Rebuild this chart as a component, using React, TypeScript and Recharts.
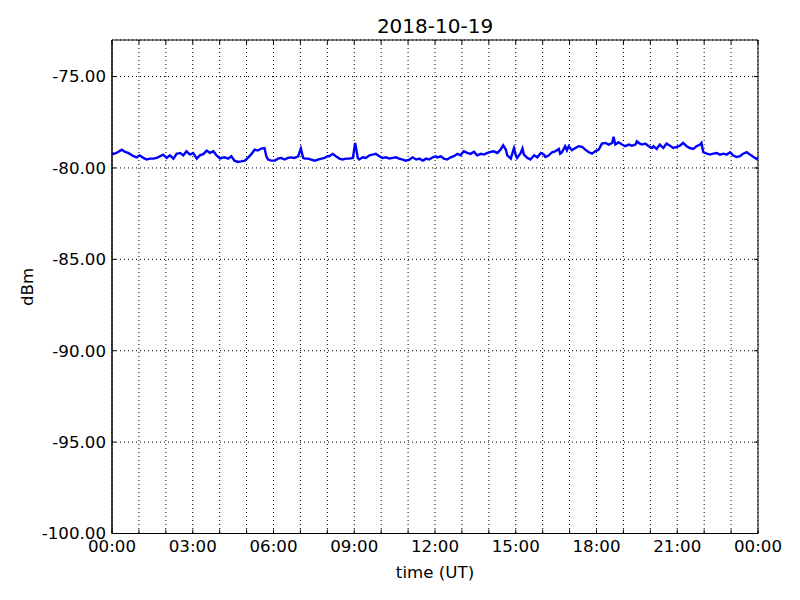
import React from 'react';
import { LineChart, Line, XAxis, YAxis, CartesianGrid, ReferenceArea } from 'recharts';

// time of day in minutes (UT) and received level in dBm
const minutes = [
    0, 3, 10, 22, 29, 36, 48, 55, 62, 70, 77, 85, 92, 100, 107, 114, 122, 129, 137, 144,
    152, 159, 166, 174, 181, 189, 196, 204, 211, 218, 226, 233, 241,
    244, 251, 259, 266, 273, 281, 288, 296, 303, 311, 318, 325, 333, 340, 344, 348, 355, 363,
    370, 377, 385, 392, 400, 407, 415, 421, 426, 430, 437, 444, 452, 459, 467, 474, 481,
    484, 492, 499, 507, 514, 522, 529, 537, 542, 548, 551, 559, 566, 574, 581, 588, 596, 603,
    611, 618, 626, 633, 640, 648, 655, 663, 670, 678, 685, 693, 700, 707, 715, 722,
    725, 733, 740, 747, 755, 762, 770, 777, 784, 792, 799, 807, 814, 822, 829, 837, 844, 851,
    859, 866, 872, 878, 881, 889, 896, 900, 903, 911, 915, 918, 926, 933, 941, 948, 956, 963,
    966, 973, 981, 988, 996, 999, 1003, 1010, 1014, 1018, 1025, 1033, 1040, 1048, 1055, 1063,
    1070, 1077, 1085, 1092, 1100, 1107, 1115, 1118, 1122, 1129, 1137, 1144, 1152, 1159, 1167,
    1170, 1174, 1181, 1189, 1196, 1204,
    1207, 1214, 1221, 1229, 1236, 1244, 1251, 1259, 1266, 1273, 1281, 1288, 1296, 1303, 1311,
    1314, 1318, 1326, 1333, 1340, 1348, 1355, 1363, 1370, 1378, 1385, 1392, 1400, 1407, 1415,
    1422, 1430, 1437, 1440,
];

const dbm = [
    -79.20, -79.23, -79.18, -79.00, -79.12, -79.18, -79.36, -79.42, -79.31, -79.45, -79.54, -79.49, -79.49, -79.45, -79.36, -79.27, -79.45, -79.31, -79.49, -79.23,
    -79.18, -79.31, -79.09, -79.27, -79.18, -79.49, -79.31, -79.23, -79.05, -79.18, -79.09, -79.31, -79.49,
    -79.45, -79.42, -79.49, -79.36, -79.60, -79.67, -79.64, -79.60, -79.45, -79.23, -79.00, -79.05, -78.94, -78.91, -79.36, -79.54, -79.60, -79.60,
    -79.49, -79.45, -79.54, -79.45, -79.42, -79.45, -79.36, -78.94, -79.45, -79.49, -79.49, -79.54, -79.60, -79.54, -79.49, -79.45, -79.36,
    -79.36, -79.23, -79.36, -79.49, -79.54, -79.49, -79.49, -79.45, -78.63, -79.45, -79.54, -79.42, -79.45, -79.31, -79.27, -79.23, -79.36, -79.45,
    -79.42, -79.49, -79.45, -79.42, -79.49, -79.54, -79.60, -79.54, -79.42, -79.54, -79.49, -79.60, -79.49, -79.54, -79.42, -79.36,
    -79.42, -79.36, -79.49, -79.54, -79.42, -79.36, -79.23, -79.31, -79.09, -79.18, -79.23, -79.12, -79.31, -79.23, -79.27, -79.18, -79.12, -79.09,
    -79.18, -79.00, -78.76, -79.00, -79.31, -79.49, -78.91, -79.31, -79.45, -79.18, -78.94, -79.27, -79.45, -79.54, -79.31, -79.42, -79.18, -79.27,
    -79.40, -79.32, -79.14, -79.09, -78.96, -79.22, -79.14, -78.81, -79.03, -78.81, -79.03, -78.91, -78.81, -78.85, -79.00, -79.14,
    -79.22, -79.09, -79.00, -78.67, -78.63, -78.72, -78.63, -78.30, -78.72, -78.59, -78.72, -78.81, -78.72, -78.78, -78.72,
    -78.54, -78.63, -78.72, -78.67, -78.81, -78.91,
    -78.81, -78.96, -78.72, -78.91, -78.67, -78.78, -78.91, -78.85, -78.78, -78.63, -78.81, -78.91, -78.96, -78.81, -78.72,
    -78.63, -79.14, -79.22, -79.27, -79.22, -79.18, -79.27, -79.22, -79.27, -79.14, -79.32, -79.40, -79.36, -79.22, -79.14,
    -79.27, -79.40, -79.51, -79.45,
];

const hourTicks = [
    0, 60, 120, 180, 240, 300, 360, 420, 480, 540, 600, 660, 720,
    780, 840, 900, 960, 1020, 1080, 1140, 1200, 1260, 1320, 1380, 1440,
];
const levelTicks = [-100, -95, -90, -85, -80, -75];

const data = minutes.map((m, i) => ({ min: m, dbm: dbm[i] }));

const FONT = '"DejaVu Sans", sans-serif';
const PLOT_TOP = 40;
const PLOT_RIGHT = 758;

const fmtTime = (m: number) => {
    const h = Math.floor(m / 60) % 24;
    const mm = m % 60;
    return `${String(h).padStart(2, '0')}:${String(mm).padStart(2, '0')}`;
};

const XTick = (props: any) => {
    const { x, y, payload } = props;
    const m = payload.value;
    const axisY = y - 7;
    return (
        <g>
            <line x1={x} x2={x} y1={axisY} y2={axisY - 4} stroke="#000" />
            <line x1={x} x2={x} y1={PLOT_TOP} y2={PLOT_TOP + 4} stroke="#000" />
            {m % 180 === 0 && (
                <text x={x} y={y} dy="0.71em" textAnchor="middle" fill="#000" fontSize={16.67} fontFamily={FONT}>
                    {fmtTime(m)}
                </text>
            )}
        </g>
    );
};

const YTick = (props: any) => {
    const { x, y, payload } = props;
    const axisX = x + 6;
    return (
        <g>
            <line x1={axisX} x2={axisX + 4} y1={y} y2={y} stroke="#000" />
            <line x1={PLOT_RIGHT} x2={PLOT_RIGHT - 4} y1={y} y2={y} stroke="#000" />
            <text x={x} y={y} dy="0.355em" textAnchor="end" fill="#000" fontSize={16.67} fontFamily={FONT}>
                {Number(payload.value).toFixed(2)}
            </text>
        </g>
    );
};

export default function App() {
    return (
        <div style={{ position: 'absolute', left: 0, top: 0, width: 800, height: 600, background: '#fff', fontFamily: FONT }}>
            <div style={{ position: 'absolute', left: 435, top: 26, transform: 'translate(-50%, -50%)', fontSize: 20, whiteSpace: 'nowrap' }}>
                2018-10-19
            </div>
            <div style={{ position: 'absolute', left: 27, top: 287, transform: 'translate(-50%, -50%) rotate(-90deg)', fontSize: 16.67, whiteSpace: 'nowrap' }}>
                dBm
            </div>
            <div style={{ position: 'absolute', left: 435, top: 572, transform: 'translate(-50%, -50%)', fontSize: 16.67, whiteSpace: 'nowrap' }}>
                time (UT)
            </div>
            <LineChart width={800} height={600} data={data} margin={{ top: 40, right: 42, left: 0, bottom: 0 }}>
                <CartesianGrid stroke="#000" strokeWidth={1} strokeDasharray="1 3" />
                <XAxis
                    dataKey="min"
                    type="number"
                    domain={[0, 1440]}
                    ticks={hourTicks}
                    interval={0}
                    height={66.5}
                    tickSize={0}
                    tickMargin={7}
                    tickLine={false}
                    axisLine={{ stroke: '#000' }}
                    tick={<XTick />}
                />
                <YAxis
                    type="number"
                    domain={[-100, -73]}
                    ticks={levelTicks}
                    interval={0}
                    width={112}
                    tickSize={0}
                    tickMargin={6}
                    tickLine={false}
                    axisLine={{ stroke: '#000' }}
                    tick={<YTick />}
                />
                <ReferenceArea x1={0} x2={1440} y1={-100} y2={-73} fill="none" stroke="#000" strokeWidth={1} />
                <Line
                    type="linear"
                    dataKey="dbm"
                    stroke="#0000ff"
                    strokeWidth={2.4}
                    dot={false}
                    isAnimationActive={false}
                />
            </LineChart>
        </div>
    );
}
